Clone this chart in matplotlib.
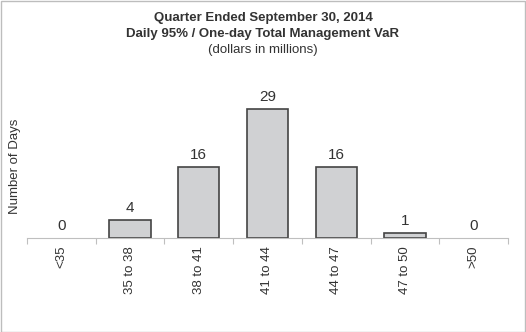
import matplotlib
matplotlib.use("Agg")
import matplotlib.pyplot as plt
from matplotlib.patches import Rectangle

plt.rcParams['font.family'] = ['Liberation Sans', 'DejaVu Sans']

# data
categories = ['<35', '35 to 38', '38 to 41', '41 to 44', '44 to 47', '47 to 50', '>50']
days = [0, 4, 16, 29, 16, 1, 0]
title_lines = ['Quarter Ended September 30, 2014',
               'Daily 95% / One-day Total Management VaR']
subtitle = '(dollars in millions)'

text_col = '#333333'
W, H = 526, 332

fig = plt.figure(figsize=(W / 100, H / 100), dpi=100)
ax = fig.add_axes([27 / W, 94.5 / H, 481 / W, 157.5 / H])

x = range(len(categories))
bars = ax.bar(x, days, width=0.6, color='#d0d1d3', edgecolor='#444444', linewidth=1.2)
# empty bins show no bar outline
for b, v in zip(bars, days):
    if v == 0:
        b.set_visible(False)

for xi, v in zip(x, days):
    ax.annotate(str(v), (xi, v), xytext=(0, 3.5), textcoords='offset points',
                ha='center', va='bottom', fontsize=11, color=text_col)

ax.set_xlim(-0.5, len(categories) - 0.5)
ax.set_ylim(0, 35.5)
ax.set_xticks(list(x))
ax.set_xticklabels(categories, rotation=90, ha='center', va='top',
                   fontsize=9.5, color=text_col)
ax.tick_params(axis='x', length=0, pad=6)
ax.set_xticks([i - 0.5 for i in range(len(categories) + 1)], minor=True)
ax.tick_params(axis='x', which='minor', length=4, color='#bfbfbf', width=0.8)
ax.set_yticks([])
for s in ['top', 'right', 'left']:
    ax.spines[s].set_visible(False)
ax.spines['bottom'].set_color('#bfbfbf')
ax.spines['bottom'].set_linewidth(0.8)
ax.patch.set_visible(False)

fig.text(15 / W, 1 - 166 / H, 'Number of Days', rotation=90, ha='center', va='center',
         fontsize=9.5, color=text_col)

fig.text(0.5, 1 - 18 / H, title_lines[0], ha='center', va='center',
         fontsize=9.5, fontweight='bold', color=text_col)
fig.text(0.5, 1 - 34 / H, title_lines[1], ha='center', va='center',
         fontsize=9.5, fontweight='bold', color=text_col)
fig.text(0.5, 1 - 50 / H, subtitle, ha='center', va='center',
         fontsize=9.5, color=text_col)

# light frame around the whole picture
fig.patches.append(Rectangle((0.5 / W, 0.5 / H), 1 - 1.5 / W, 1 - 1.5 / H,
                             transform=fig.transFigure, fill=False,
                             edgecolor='#bdbdbd', linewidth=1))

fig.savefig('out.png', dpi=100)
